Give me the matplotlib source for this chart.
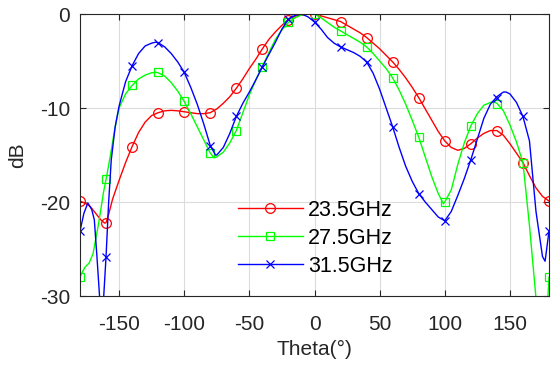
import matplotlib
matplotlib.use("Agg")
import matplotlib.pyplot as plt

# ---- data ----
marker_theta = [-180, -160, -140, -120, -100, -80, -60, -40, -20, 0,
                20, 40, 60, 80, 100, 120, 140, 160, 180]
red_marker = [-19.9, -22.2, -14.1, -10.5, -10.4, -10.5, -7.9, -3.7, -0.6, 0.0,
              -0.8, -2.5, -5.1, -8.9, -13.5, -13.8, -12.4, -15.8, -19.9]
green_marker = [-28.0, -17.6, -7.6, -6.2, -9.3, -14.8, -12.4, -5.6, -0.9, 0.0,
                -1.8, -3.5, -6.8, -13.1, -20.0, -11.9, -9.6, -15.8, -28.0]
blue_marker = [-23.1, -25.8, -5.5, -3.05, -6.2, -14.0, -10.9, -5.6, -0.55, -0.85,
               -3.5, -5.1, -12.0, -19.1, -22.0, -15.5, -8.9, -10.9, -23.1]

red_theta = [-180, -175, -172, -168, -164, -161, -160, -158, -155, -150, -145, -140,
             -135, -130, -125, -120, -115, -110, -105, -100, -95, -90, -85, -80,
             -75, -70, -65, -60, -55, -50, -45, -40, -35, -30, -25, -20, -15, -10,
             -5, 0, 5, 10, 15, 20, 25, 30, 35, 40, 45, 50, 55, 60, 65, 70, 75, 80,
             85, 90, 95, 100, 105, 110, 115, 120, 125, 130, 135, 140, 145, 150,
             155, 160, 165, 170, 175, 180]
red_db = [-19.9, -20.2, -20.5, -21.2, -21.9, -22.25, -22.2, -21.3, -19.7, -17.7, -15.8, -14.1,
          -12.6, -11.5, -10.8, -10.5, -10.3, -10.25, -10.3, -10.4, -10.5, -10.6, -10.6, -10.5,
          -10.1, -9.5, -8.8, -7.9, -6.9, -5.8, -4.8, -3.7, -2.7, -1.9, -1.2, -0.6, -0.25, -0.1,
          0.0, 0.0, -0.2, -0.4, -0.6, -0.8, -1.2, -1.6, -2.0, -2.5, -3.1, -3.7, -4.4, -5.1, -5.9, -6.8, -7.8, -8.9,
          -10.1, -11.3, -12.5, -13.5, -14.2, -14.5, -14.3, -13.8, -13.2, -12.7, -12.4, -12.4, -12.9, -13.8,
          -14.8, -15.8, -17.2, -18.5, -19.4, -19.9]

green_theta = [-180, -178, -176, -173, -170, -168, -166, -164, -162, -160, -158, -156, -154,
               -152, -150, -145, -140, -135, -130, -125, -122, -120, -115, -110, -105, -100,
               -95, -90, -85, -80, -77, -75, -70, -65, -60, -55, -50, -45, -40, -35, -30,
               -25, -20, -15, -10, -5, 0, 5, 10, 15, 20, 25, 30, 35, 40, 45, 50, 55, 60,
               65, 70, 75, 80, 85, 90, 95, 99, 100, 105, 110, 115, 120, 125, 130, 137, 140,
               145, 150, 155, 160, 165, 170, 173, 176, 178, 179, 180]
green_db = [-28.0, -27.4, -26.9, -26.5, -25.5, -24.0, -22.5, -20.8, -19.0, -17.6, -16.1, -14.5, -12.8,
            -11.3, -10.0, -8.5, -7.6, -6.9, -6.5, -6.25, -6.2, -6.25, -6.6, -7.3, -8.2, -9.3,
            -10.6, -12.0, -13.4, -14.8, -15.3, -15.2, -14.7, -13.7, -12.4, -10.5, -8.6, -7.0, -5.6, -4.1, -2.7,
            -1.7, -0.9, -0.4, -0.1, 0.0, 0.0, -0.4, -0.9, -1.4, -1.8, -2.2, -2.6, -3.0, -3.5, -4.2, -5.0, -5.8, -6.8,
            -8.1, -9.6, -11.3, -13.1, -15.2, -17.3, -19.1, -20.2, -20.0, -18.7, -16.0, -13.7, -11.9, -10.6, -9.7, -9.3, -9.5,
            -10.3, -11.8, -13.6, -15.8, -22.5, -30.2, -33.5, -34.0, -32.0, -30.5, -28.0]

blue_theta = [-180, -177, -174, -171, -169, -167, -165, -163.5, -162, -160, -158, -156, -153,
              -150, -145, -140, -135, -130, -125, -122, -120, -115, -110, -105, -100, -95, -90,
              -85, -80, -76, -75, -70, -65, -60, -55, -50, -45, -40, -35, -30, -25, -20, -15,
              -10, -5, 0, 5, 10, 15, 20, 25, 30, 35, 40, 45, 50, 55, 60, 65, 70, 75, 80, 85,
              90, 95, 100, 105, 110, 115, 120, 125, 130, 135, 140, 145, 147, 150, 155, 160,
              165, 170, 175, 177, 180]
blue_db = [-23.1, -21.2, -20.1, -20.8, -21.9, -25.8, -30.0, -33.0, -30.5, -25.8, -20.0, -15.5, -12.0,
           -9.8, -7.2, -5.5, -4.2, -3.4, -3.1, -3.0, -3.05, -3.5, -4.2, -5.1, -6.2, -7.8, -9.6,
           -11.7, -14.0, -15.0, -15.0, -14.2, -12.7, -10.9, -9.5, -8.3, -7.0, -5.6, -4.3, -3.0, -1.6, -0.55, -0.15,
           0.0, -0.3, -0.85, -1.6, -2.5, -3.1, -3.5, -3.8, -4.1, -4.5, -5.1, -6.3, -8.0, -10.0, -12.0, -14.2, -16.2, -17.8, -19.1, -20.0,
           -20.8, -21.6, -22.0, -21.0, -19.3, -17.5, -15.5, -13.3, -11.1, -9.6, -8.8, -8.3, -8.3, -8.5, -9.4, -10.9,
           -13.5, -21.0, -25.8, -26.3, -23.1]

series_labels = ["23.5GHz", "27.5GHz", "31.5GHz"]
x_ticks = [-150, -100, -50, 0, 50, 100, 150]
y_ticks = [-30, -20, -10, 0]

# ---- drawing ----
plt.rcParams['font.family'] = ['Liberation Sans', 'DejaVu Sans']
plt.rcParams['axes.unicode_minus'] = False
fig = plt.figure(figsize=(5.56, 3.66), dpi=100)
ax = fig.add_axes([80/556, 70/366, 469/556, 282/366])

axc = '#262626'
specs = [(red_theta, red_db, red_marker, '#ff0000', 'o', 7),
         (green_theta, green_db, green_marker, '#00ff00', 's', 5.5),
         (blue_theta, blue_db, blue_marker, '#0000ff', 'x', 5.5)]
handles = []
for (th, db, mk, c, m, ms), lab in zip(specs, series_labels):
    ax.plot(th, db, color=c, lw=1.0)
    ax.plot(marker_theta, mk, ls='none', marker=m, ms=ms, mfc='none', mec=c, mew=0.9)
    h, = ax.plot([], [], color=c, lw=1.0, marker=m, ms=ms, mfc='none', mec=c, mew=0.9, label=lab)
    handles.append(h)

ax.set_xlim(-180, 180)
ax.set_ylim(-30, 0)
ax.set_xticks(x_ticks)
ax.set_yticks(y_ticks)
ax.grid(True, color='#dcdcdc', lw=0.8)
ax.set_axisbelow(True)
for s in ax.spines.values():
    s.set_color(axc)
    s.set_linewidth(0.8)
ax.tick_params(axis='both', direction='in', length=4, width=0.8, color=axc,
               labelcolor=axc, labelsize=15, top=True, right=True)
ax.tick_params(axis='x', pad=14)
ax.tick_params(axis='y', pad=7)
ax.set_xlabel('Theta(°)', fontsize=15, color=axc, labelpad=4)
ax.set_ylabel('dB', fontsize=15, color=axc, labelpad=9)

leg = ax.legend(handles=handles, loc='upper left', bbox_to_anchor=(238/556, 1 - 200/366),
                bbox_transform=fig.transFigure, frameon=False, fontsize=15.5,
                handlelength=3.0, handletextpad=0.25, labelspacing=0.32,
                borderpad=0, borderaxespad=0)
for t in leg.get_texts():
    t.set_color('black')

fig.savefig('out.png', dpi=100)
